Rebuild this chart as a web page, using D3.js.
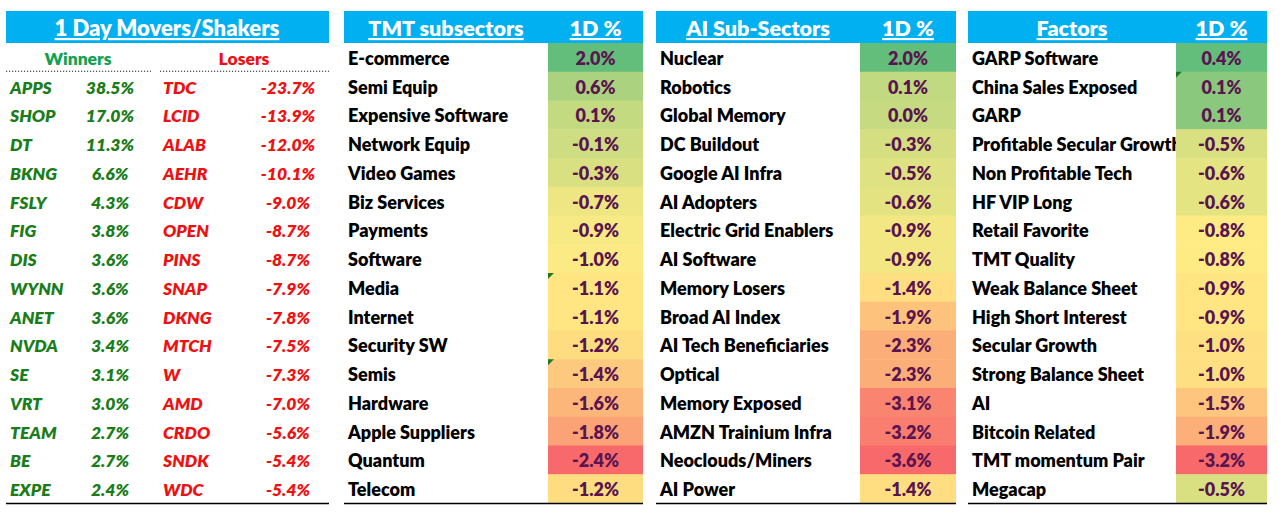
<!DOCTYPE html>
<html>
<head>
<meta charset="utf-8">
<script src="https://cdn.jsdelivr.net/npm/d3@7"></script>
<style>
  html, body { margin: 0; padding: 0; background: #fff; }
  svg { display: block; }
  text { font-family: Lato, "Open Sans", sans-serif; font-weight: 800; }
</style>
</head>
<body>
<div id="chart"></div>
<script>
// 1 day movers
const winnerTickers = ['APPS', 'SHOP', 'DT', 'BKNG', 'FSLY', 'FIG', 'DIS', 'WYNN', 'ANET', 'NVDA', 'SE', 'VRT', 'TEAM', 'BE', 'EXPE'];
const winnerValues  = [38.5, 17.0, 11.3, 6.6, 4.3, 3.8, 3.6, 3.6, 3.6, 3.4, 3.1, 3.0, 2.7, 2.7, 2.4];
const loserTickers  = ['TDC', 'LCID', 'ALAB', 'AEHR', 'CDW', 'OPEN', 'PINS', 'SNAP', 'DKNG', 'MTCH', 'W', 'AMD', 'CRDO', 'SNDK', 'WDC'];
const loserValues   = [-23.7, -13.9, -12.0, -10.1, -9.0, -8.7, -8.7, -7.9, -7.8, -7.5, -7.3, -7.0, -5.6, -5.4, -5.4];

// TMT subsectors
const tmtLabels = ['E-commerce', 'Semi Equip', 'Expensive Software', 'Network Equip', 'Video Games', 'Biz Services',
  'Payments', 'Software', 'Media', 'Internet', 'Security SW', 'Semis', 'Hardware', 'Apple Suppliers', 'Quantum', 'Telecom'];
const tmtValues = [2.0, 0.6, 0.1, -0.1, -0.3, -0.7, -0.9, -1.0, -1.1, -1.1, -1.2, -1.4, -1.6, -1.8, -2.4, -1.2];

// AI sub-sectors
const aiLabels = ['Nuclear', 'Robotics', 'Global Memory', 'DC Buildout', 'Google AI Infra', 'AI Adopters',
  'Electric Grid Enablers', 'AI Software', 'Memory Losers', 'Broad AI Index', 'AI Tech Beneficiaries', 'Optical',
  'Memory Exposed', 'AMZN Trainium Infra', 'Neoclouds/Miners', 'AI Power'];
const aiValues = [2.0, 0.1, 0.0, -0.3, -0.5, -0.6, -0.9, -0.9, -1.4, -1.9, -2.3, -2.3, -3.1, -3.2, -3.6, -1.4];

// Factors
const factorLabels = ['GARP Software', 'China Sales Exposed', 'GARP', 'Profitable Secular Growth', 'Non Profitable Tech',
  'HF VIP Long', 'Retail Favorite', 'TMT Quality', 'Weak Balance Sheet', 'High Short Interest', 'Secular Growth',
  'Strong Balance Sheet', 'AI', 'Bitcoin Related', 'TMT momentum Pair', 'Megacap'];
const factorValues = [0.4, 0.1, 0.1, -0.5, -0.6, -0.6, -0.8, -0.8, -0.9, -0.9, -1.0, -1.0, -1.5, -1.9, -3.2, -0.5];

// cells showing the little green Excel marker
const tmtFlagged    = ['Media', 'Semis'];
const factorFlagged = ['China Sales Exposed'];

const width = 1287, height = 520;
const headTop = 11, headBottom = 43, gridBottom = 503;
const headBlue = '#00b0f0';
const valueInk = '#5a1550';
const bodySize = 18;

const svg = d3.select('#chart').append('svg')
  .attr('width', width)
  .attr('height', height);

svg.append('rect').attr('width', width).attr('height', height).attr('fill', '#fff');

// shared row scale (16 rows under the header)
const y = d3.scaleBand()
  .domain(d3.range(16))
  .range([headBottom, gridBottom]);

const base = i => y(i) + y.bandwidth() - 7;
const fmt = v => v.toFixed(1) + '%';

function header(label, cx, size) {
  svg.append('text')
    .attr('x', cx)
    .attr('y', 36)
    .attr('text-anchor', 'middle')
    .attr('fill', '#fff')
    .attr('font-size', size)
    .style('text-decoration', 'underline')
    .text(label);
}

// ---- panel 1 : movers / shakers
svg.append('rect')
  .attr('x', 6).attr('y', headTop)
  .attr('width', 329 - 6).attr('height', headBottom - headTop)
  .attr('fill', headBlue);
header('1 Day Movers/Shakers', 167, 22);

svg.append('text')
  .attr('x', 78).attr('y', base(0))
  .attr('text-anchor', 'middle').attr('font-size', 17.5)
  .attr('fill', '#12a150').text('Winners');
svg.append('text')
  .attr('x', 244).attr('y', base(0))
  .attr('text-anchor', 'middle').attr('font-size', 17.5)
  .attr('fill', '#ee1111').text('Losers');

[[6, 151], [160, 329]].forEach(([a, b]) => {
  svg.append('line')
    .attr('x1', a).attr('x2', b)
    .attr('y1', y(1) - 0.5).attr('y2', y(1) - 0.5)
    .attr('stroke', '#222').attr('stroke-width', 1.2)
    .attr('stroke-dasharray', '1.2,1.8');
});

const movers = svg.append('g').style('font-style', 'italic').attr('font-size', 17.5);
const moverRows = winnerTickers.map((t, i) => ({ i: i + 1, wt: t, wv: winnerValues[i], lt: loserTickers[i], lv: loserValues[i] }));

movers.selectAll('text.wt').data(moverRows).join('text')
  .attr('class', 'wt')
  .attr('x', 10).attr('y', d => base(d.i))
  .attr('fill', '#1a7d1a').text(d => d.wt);
movers.selectAll('text.wv').data(moverRows).join('text')
  .attr('class', 'wv')
  .attr('x', 110).attr('text-anchor', 'middle')
  .attr('y', d => base(d.i))
  .attr('fill', '#1a7d1a').text(d => fmt(d.wv));
movers.selectAll('text.lt').data(moverRows).join('text')
  .attr('class', 'lt')
  .attr('x', 163).attr('y', d => base(d.i))
  .attr('fill', '#ee1111').text(d => d.lt);
movers.selectAll('text.lv').data(moverRows).join('text')
  .attr('class', 'lv')
  .attr('x', 288).attr('text-anchor', 'middle')
  .attr('y', d => base(d.i))
  .attr('fill', '#ee1111').text(d => fmt(d.lv));

svg.append('line')
  .attr('x1', 6).attr('x2', 329)
  .attr('y1', gridBottom + 0.5).attr('y2', gridBottom + 0.5)
  .attr('stroke', '#000').attr('stroke-width', 1.5);

// ---- heat-map tables
const tables = [
  { title: 'TMT subsectors', labels: tmtLabels,    values: tmtValues,    flagged: tmtFlagged,    x0: 344, xv: 548,  x1: 643 },
  { title: 'AI Sub-Sectors', labels: aiLabels,     values: aiValues,     flagged: [],            x0: 656, xv: 860,  x1: 956 },
  { title: 'Factors',        labels: factorLabels, values: factorValues, flagged: factorFlagged, x0: 968, xv: 1176, x1: 1267 }
];

tables.forEach(t => {
  const rows = t.labels.map((l, i) => ({ i, label: l, value: t.values[i] }));

  // Excel style 3 colour scale: min red, median yellow, max green
  const color = d3.scaleLinear()
    .domain([d3.min(t.values), d3.median(t.values), d3.max(t.values)])
    .range(['#f8696b', '#ffeb84', '#63be7b'])
    .interpolate(d3.interpolateRgb);

  const g = svg.append('g');

  g.append('rect')
    .attr('x', t.x0).attr('y', headTop)
    .attr('width', t.x1 - t.x0).attr('height', headBottom - headTop)
    .attr('fill', headBlue);
  header(t.title, (t.x0 + t.xv) / 2, 21.5);
  header('1D %', (t.xv + t.x1) / 2, 21.5);

  g.selectAll('text.label').data(rows).join('text')
    .attr('class', 'label')
    .attr('x', t.x0 + 4)
    .attr('y', d => base(d.i))
    .attr('font-size', bodySize)
    .attr('fill', '#000')
    .text(d => d.label);

  // cells drawn after labels so long names get cut off like in the sheet
  g.selectAll('rect.cell').data(rows).join('rect')
    .attr('class', 'cell')
    .attr('x', t.xv)
    .attr('y', d => y(d.i))
    .attr('width', t.x1 - t.xv)
    .attr('height', y.bandwidth() + 0.5)
    .attr('fill', d => color(d.value));

  g.selectAll('path.flag').data(rows.filter(d => t.flagged.includes(d.label))).join('path')
    .attr('class', 'flag')
    .attr('d', d => `M${t.xv},${y(d.i)}h6l-6,6z`)
    .attr('fill', '#1f7a1f');

  g.selectAll('text.value').data(rows).join('text')
    .attr('class', 'value')
    .attr('x', (t.xv + t.x1) / 2)
    .attr('y', d => base(d.i))
    .attr('text-anchor', 'middle')
    .attr('font-size', bodySize)
    .attr('fill', valueInk)
    .text(d => fmt(d.value));

  g.append('line')
    .attr('x1', t.x0).attr('x2', t.x1)
    .attr('y1', gridBottom + 0.5).attr('y2', gridBottom + 0.5)
    .attr('stroke', '#000').attr('stroke-width', 1.5);
});
</script>
</body>
</html>
